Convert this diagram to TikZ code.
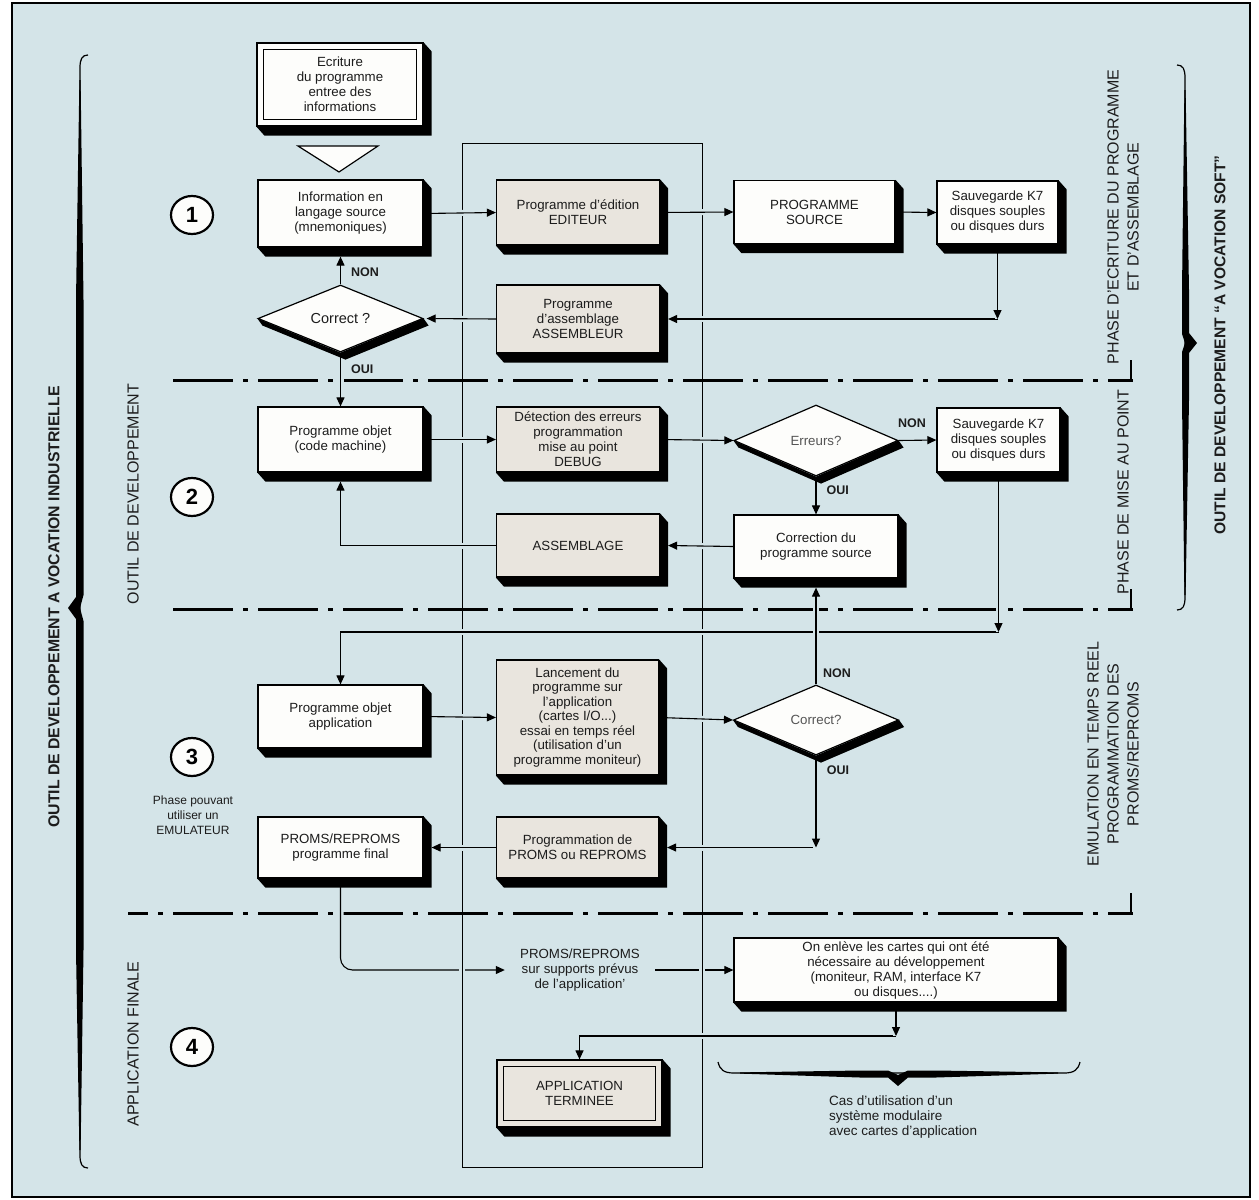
\documentclass[tikz,border=0pt]{standalone}
\usepackage{fontspec}
\setmainfont{Liberation Sans}
\usetikzlibrary{shapes.geometric,arrows.meta}
\definecolor{bg}{RGB}{212,228,232}
\definecolor{gfill}{RGB}{233,229,222}
\definecolor{wfill}{RGB}{253,253,251}
\definecolor{txt}{RGB}{28,28,28}
\definecolor{soft}{RGB}{85,85,85}
\pgfdeclarelayer{back}
\pgfdeclarelayer{conn}
\pgfsetlayers{back,conn,main}
\newcommand\bxf{\fontsize{13.3}{15}\selectfont}
\newcommand\boxshadow[1]{\fill[black] (#1.north east) -- ([shift={(8pt,-9pt)}]#1.north east) -- ([shift={(8pt,-9pt)}]#1.south east) -- ([shift={(8pt,-9pt)}]#1.south west) -- (#1.south west) -- (#1.south east) -- cycle;}
\newcommand\diashadow[1]{\fill[black] (#1.west) -- ([shift={(5pt,-7pt)}]#1.west) -- ([shift={(5pt,-7pt)}]#1.south) -- ([shift={(5pt,-7pt)}]#1.east) -- (#1.east) -- (#1.south) -- cycle;}
\tikzset{
  box/.style={rectangle, draw=black, line width=1.2pt, fill=wfill, align=center, inner sep=0pt, text=txt, font=\bxf},
  gbox/.style={box, fill=gfill},
  dia/.style={diamond, aspect=2.5, draw=black, line width=1.2pt, fill=wfill, inner sep=0pt, text=soft, font=\bxf},
  conn/.style={line width=1.1pt, draw=black, -{Triangle[length=9pt,width=8pt]}, preaction={draw=bg, line width=6pt, -}},
  plain/.style={line width=1pt, draw=black, preaction={draw=bg, line width=6pt}},
  dd/.style={line width=3pt, dash pattern=on 60pt off 10pt on 5pt off 10pt},
  lbl/.style={font=\bfseries\fontsize{12.5}{14}\selectfont, text=txt, inner sep=0pt},
  numc/.style={ellipse, draw=black, line width=2.2pt, fill=wfill, minimum width=42pt, minimum height=38pt, inner sep=0pt, font=\bfseries\fontsize{22}{22}\selectfont},
  rotlbl/.style={rotate=90, text=txt, align=center, inner sep=0pt, font=\fontsize{16}{20}\selectfont},
}
\begin{document}
\begin{tikzpicture}[x=1pt,y=-1pt]
\useasboundingbox (0,0) rectangle (1259,1200);
\begin{pgfonlayer}{back}
  \fill[white] (0,0) rectangle (1259,1200);
  \draw[fill=bg, line width=1.6pt] (12,3) rectangle (1250,1197);
  \draw[line width=1pt] (462,143) rectangle (702,1167);
  \draw[dd] (173,380) -- (1133,380);
  \draw[dd] (173,609) -- (1133,609);
  \draw[dd, dash phase=40pt] (128,913) -- (1133,913);
  \draw[line width=2pt] (1131,360) -- (1131,380);
  \draw[line width=2pt] (1131,589) -- (1131,609);
  \draw[line width=2pt] (1131,893) -- (1131,913);
\end{pgfonlayer}

% nodes
\node[box, minimum width=166pt, minimum height=83pt] (ecr) at (340,84.5) {Ecriture\\du programme\\entree des\\informations};
\draw[line width=1pt] ([shift={(7pt,-7pt)}]ecr.north west) rectangle ([shift={(-7pt,7pt)}]ecr.south east);
\draw[line width=1.2pt, fill=wfill] (298,146) -- (378,146) -- (339,172) -- cycle;

\node[box, minimum width=165pt, minimum height=67pt] (info) at (340.5,213.5) {Information en\\langage source\\(mnemoniques)};
\node[gbox, minimum width=163pt, minimum height=65pt] (edit) at (578,212.5) {Programme d’édition\\EDITEUR};
\node[box, minimum width=161pt, minimum height=63pt] (src) at (814.5,212) {PROGRAMME\\SOURCE};
\node[box, minimum width=121pt, minimum height=63pt] (sav1) at (997.5,212.5) {Sauvegarde K7\\disques souples\\ou disques durs};
\node[gbox, minimum width=163pt, minimum height=68pt] (asm) at (578,319) {Programme\\d’assemblage\\ASSEMBLEUR};
\node[dia, minimum width=165pt, minimum height=67pt, text=txt, font=\fontsize{14.5}{16}\selectfont] (corr1) at (340.5,318.5) {Correct ?};

\node[box, minimum width=165pt, minimum height=65pt] (obj) at (340.5,439.5) {Programme objet\\(code machine)};
\node[gbox, minimum width=163pt, minimum height=65pt] (dbg) at (578,439.5) {Détection des erreurs\\programmation\\mise au point\\DEBUG};
\node[dia, minimum width=164pt, minimum height=71pt] (err) at (816,440.5) {Erreurs?};
\node[box, minimum width=123pt, minimum height=64pt] (sav2) at (998.5,440) {Sauvegarde K7\\disques souples\\ou disques durs};
\node[box, minimum width=164pt, minimum height=63pt] (corsrc) at (816,546.5) {Correction du\\programme source};
\node[gbox, minimum width=163pt, minimum height=63pt] (asmb) at (578,545.5) {ASSEMBLAGE};

\node[box, minimum width=165pt, minimum height=63pt] (objapp) at (340.5,716.5) {Programme objet\\application};
\node[gbox, minimum width=162pt, minimum height=115pt, font=\fontsize{13.3}{14.5}\selectfont] (lanc) at (577.5,717.5) {Lancement du\\programme sur\\l’application\\(cartes I/O...)\\essai en temps réel\\(utilisation d’un\\programme moniteur)};
\node[dia, minimum width=165pt, minimum height=70pt] (cor3) at (816,720) {Correct?};
\node[gbox, minimum width=162pt, minimum height=61pt] (prog) at (577.5,847.5) {Programmation de\\PROMS ou REPROMS};
\node[box, minimum width=165pt, minimum height=61pt] (fin) at (340.5,847.5) {PROMS/REPROMS\\programme final};

\node[align=center, text=txt, font=\bxf, minimum width=150pt, inner sep=0pt] (sup) at (580,970) {PROMS/REPROMS\\sur supports prévus\\de l’application’};
\node[box, minimum width=324pt, minimum height=64pt] (enl) at (896,970) {On enlève les cartes qui ont été\\nécessaire au développement\\(moniteur, RAM, interface K7\\ou disques....)};
\node[gbox, minimum width=165pt, minimum height=67pt] (apt) at (579.5,1093.5) {APPLICATION\\TERMINEE};
\draw[line width=1pt] ([shift={(7pt,-7pt)}]apt.north west) rectangle ([shift={(-7pt,7pt)}]apt.south east);

% shadows (extrusion to lower right)
\boxshadow{ecr}
\boxshadow{info}
\boxshadow{edit}
\boxshadow{src}
\boxshadow{sav1}
\boxshadow{asm}
\boxshadow{obj}
\boxshadow{dbg}
\boxshadow{sav2}
\boxshadow{corsrc}
\boxshadow{asmb}
\boxshadow{objapp}
\boxshadow{lanc}
\boxshadow{prog}
\boxshadow{fin}
\boxshadow{enl}
\boxshadow{apt}
\diashadow{corr1}
\diashadow{err}
\diashadow{cor3}

\node[align=left, anchor=north west, text=txt, font=\fontsize{13.5}{15}\selectfont, inner sep=0pt] (cas) at (829,1096) {Cas d’utilisation d’un\\système modulaire\\avec cartes d’application};

% phase numbers
\node[numc] (n1) at (192,215) {1};
\node[numc] (n2) at (192,497) {2};
\node[numc] (n3) at (192,757) {3};
\node[numc] (n4) at (192,1047) {4};
\node[align=center, text=txt, font=\fontsize{12}{15}\selectfont, inner sep=0pt] (emu) at (193,815) {Phase pouvant\\utiliser un\\EMULATEUR};

% side labels
\node[rotlbl, font=\bfseries\fontsize{15.8}{19}\selectfont] (indus) at (54,607) {OUTIL DE DEVELOPPEMENT A VOCATION INDUSTRIELLE};
\node[rotlbl] (odev) at (133,494) {OUTIL DE DEVELOPPEMENT};
\node[rotlbl] (afin) at (133,1044) {APPLICATION FINALE};
\node[rotlbl] (ph1) at (1123,217) {PHASE D’ECRITURE DU PROGRAMME\\ET D’ASSEMBLAGE};
\node[rotlbl] (ph2) at (1123,492) {PHASE DE MISE AU POINT};
\node[rotlbl] (ph3) at (1113,754) {EMULATION EN TEMPS REEL\\PROGRAMMATION DES\\PROMS/REPROMS};
\node[rotlbl, font=\bfseries\fontsize{15.6}{19}\selectfont] (soft) at (1220,345) {OUTIL DE DEVELOPPEMENT “A VOCATION SOFT”};

% braces
\draw[line width=1.2pt] (1177,65) .. controls (1183,65) and (1185,69) .. (1185,78) -- (1185,597) .. controls (1185,606) and (1183,610) .. (1177,610);
\fill (1184.4,90) -- (1185.6,90) -- (1189,290) -- (1189,333) -- (1197,343) -- (1189,353) -- (1189,400) -- (1185.6,595) -- (1184.4,595) -- (1182,400) -- (1182,352) -- (1185,343) -- (1182,334) -- (1182,290) -- cycle;
\draw[line width=1.2pt] (88,55) .. controls (82,55) and (80,59) .. (80,68) -- (80,1155) .. controls (80,1164) and (82,1168) .. (88,1168);
\fill (80.6,80) -- (79.4,80) -- (76,300) -- (76,597) -- (68,608) -- (76,619) -- (76,950) -- (79.4,1150) -- (80.6,1150) -- (83.5,950) -- (83.5,621) -- (80,608) -- (83.5,595) -- (83.5,300) -- cycle;
\draw[line width=1.2pt] (718,1062) .. controls (720,1070) and (724,1073) .. (734,1073) -- (1064,1073) .. controls (1074,1073) and (1078,1070) .. (1080,1062);
\fill (740,1072.4) -- (860,1070.5) -- (888,1070.5) -- (898,1075) -- (908,1070.5) -- (936,1070.5) -- (1058,1072.4) -- (1058,1073.6) -- (936,1077.5) -- (908,1077.5) -- (898,1086) -- (888,1077.5) -- (860,1077.5) -- (740,1073.6) -- cycle;

% connectors
\coordinate (c1) at (sav1.south |- asm.east);
\coordinate (c2) at (998.5,632);
\coordinate (c3) at (cor3.south |- prog.east);
\coordinate (c4) at (896,1036);
\begin{pgfonlayer}{conn}
  \draw[conn] (info.east) -- (edit.west);
  \draw[conn] (edit.east) -- (src.west);
  \draw[conn] (src.east) -- (sav1.west);
  \draw[conn] (c1) -- ([xshift=8pt]asm.east);
  \draw[conn] (sav1.south) -- (c1);
  \draw[conn] (asm.west) -- ([xshift=3pt]corr1.east);
  \draw[conn] (corr1.north) -- ([yshift=-9pt]info.south) node[lbl, pos=0.45, right=10pt] (non1) {NON};
  \draw[conn] (corr1.south) -- (obj.north) node[lbl, pos=0.3, right=10pt] (oui1) {OUI};

  \draw[conn] (obj.east) -- (dbg.west);
  \draw[conn] (dbg.east) -- (err.west);
  \draw[conn] (err.east) -- (sav2.west);
  \node[lbl] (non2) at (912,423) {NON};
  \draw[conn] (err.south) -- (corsrc.north) node[lbl, pos=0.35, right=10pt] (oui2) {OUI};
  \draw[conn] (corsrc.west) -- ([xshift=8pt]asmb.east);
  \draw[conn] (asmb.west) -| ([yshift=-9pt]obj.south);

  \draw[conn] (c2) -| (objapp.north);
  \draw[conn] (sav2.south) -- (c2);
  \draw[conn] (objapp.east) -- (lanc.west);
  \draw[conn] (lanc.east) -- (cor3.west);
  \draw[conn] (cor3.north) -- ([yshift=-9pt]corsrc.south);
  \node[lbl] (non3) at (837,673) {NON};
  \draw[conn] (c3) -- ([xshift=8pt]prog.east);
  \draw[conn] (cor3.south) -- (c3);
  \node[lbl] (oui3) at (838,770) {OUI};
  \draw[conn] (prog.west) -- ([xshift=8pt]fin.east);

  \draw[conn, rounded corners=12pt] (fin.south) |- (sup.west);
  \draw[conn] (sup.east) -- (enl.west);
  \draw[plain] (462,958) -- (462,984);
  \draw[plain] (702,958) -- (702,984);
  \draw[conn] (c4) -| (apt.north);
  \draw[conn] (enl.south) -- (c4);
\end{pgfonlayer}
\end{tikzpicture}
\end{document}
